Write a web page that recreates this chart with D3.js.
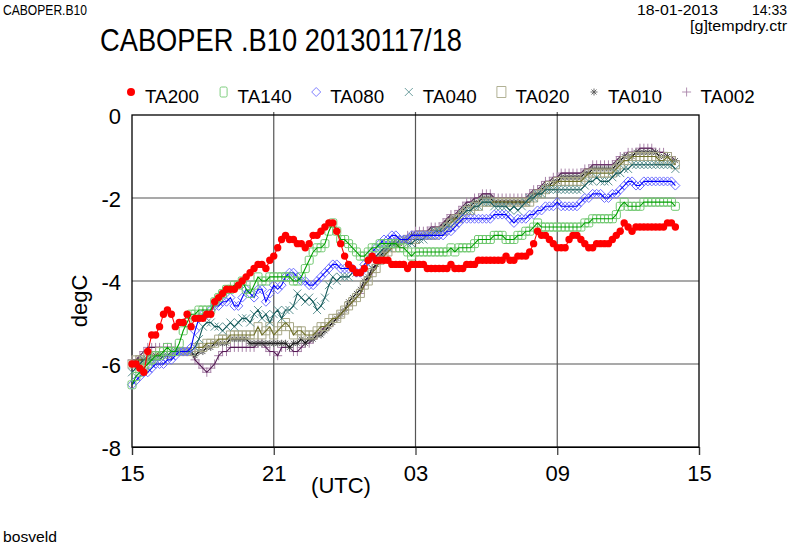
<!DOCTYPE html>
<html><head><meta charset="utf-8">
<script src="https://cdn.jsdelivr.net/npm/d3@7"></script>
<style>body{margin:0;background:#fff}svg{display:block}text{font-family:"Liberation Sans",Arial,sans-serif;fill:#000}</style>
</head><body><svg id="c" width="790" height="545"></svg>
<script>
// ---- data (10-minute samples starting 15 UTC, 17 Jan 2013) ----
const startHour = 15, stepMinutes = 10;
const seriesNames = ["TA200","TA140","TA080","TA040","TA020","TA010","TA002"];
const xTickHours = [0, 6, 12, 18, 24];
const xTickLabels = ["15","21","03","09","15"];
const yTicks = [-8, -6, -4, -2, 0];
const yTickLabels = ["-8","-6","-4","-2","0"];

const TA200 = [-6.0,-6.0,-6.1,-6.2,-5.7,-5.3,-5.3,-5.1,-4.8,-4.7,-4.8,-5.1,-5.0,-5.0,-4.8,-5.1,-4.9,-4.9,-4.9,-4.8,
-4.8,-4.5,-4.4,-4.3,-4.2,-4.2,-4.2,-4.1,-4.0,-3.9,-3.8,-3.7,-3.6,-3.6,-3.7,-3.5,-3.4,-3.2,-3.0,-2.9,
-3.0,-3.0,-3.1,-3.1,-3.2,-3.1,-2.9,-2.9,-2.8,-2.7,-2.6,-2.6,-2.8,-3.1,-3.4,-3.6,-3.7,-3.8,-3.8,-3.7,
-3.5,-3.4,-3.5,-3.5,-3.5,-3.5,-3.6,-3.6,-3.6,-3.6,-3.7,-3.6,-3.6,-3.6,-3.6,-3.7,-3.7,-3.7,-3.7,-3.7,
-3.7,-3.6,-3.7,-3.7,-3.7,-3.6,-3.6,-3.6,-3.5,-3.5,-3.5,-3.5,-3.5,-3.5,-3.5,-3.4,-3.5,-3.5,-3.4,-3.4,
-3.4,-3.3,-3.1,-2.8,-2.9,-2.9,-3.0,-3.1,-3.2,-3.2,-3.2,-3.0,-2.9,-2.9,-3.0,-3.1,-3.2,-3.2,-3.1,-3.1,
-3.1,-3.1,-3.0,-2.9,-2.8,-2.6,-2.7,-2.8,-2.7,-2.7,-2.7,-2.7,-2.7,-2.7,-2.7,-2.7,-2.6,-2.6,-2.7];
const TA140 = [-6.5,-6.3,-6.2,-6.1,-6.0,-5.9,-5.8,-5.8,-5.7,-5.6,-5.7,-5.7,-5.5,-5.2,-5.0,-4.8,-4.8,-4.7,-4.7,-4.7,
-4.7,-4.5,-4.4,-4.3,-4.2,-4.2,-4.1,-4.1,-4.0,-4.2,-4.3,-4.1,-3.9,-4.0,-4.0,-3.9,-3.9,-3.9,-3.9,-3.9,
-3.9,-4.0,-4.0,-3.9,-3.7,-3.5,-3.3,-3.2,-3.2,-3.1,-2.8,-2.6,-2.8,-3.0,-3.0,-3.1,-3.2,-3.3,-3.4,-3.4,
-3.3,-3.2,-3.2,-3.1,-3.1,-3.1,-3.1,-3.1,-3.2,-3.2,-3.3,-3.4,-3.3,-3.3,-3.3,-3.3,-3.3,-3.3,-3.3,-3.3,
-3.3,-3.2,-3.3,-3.2,-3.2,-3.2,-3.2,-3.1,-3.0,-3.0,-3.0,-3.0,-2.9,-2.9,-2.9,-3.0,-3.0,-3.0,-2.9,-2.9,
-2.8,-2.8,-2.7,-2.6,-2.7,-2.7,-2.7,-2.7,-2.7,-2.7,-2.7,-2.7,-2.7,-2.7,-2.7,-2.6,-2.6,-2.5,-2.5,-2.5,
-2.5,-2.5,-2.5,-2.4,-2.2,-2.1,-2.2,-2.2,-2.2,-2.2,-2.1,-2.1,-2.1,-2.1,-2.1,-2.1,-2.1,-2.1,-2.2];
const TA080 = [-6.5,-6.4,-6.3,-6.2,-6.2,-6.1,-6.0,-6.0,-6.0,-5.9,-5.9,-5.8,-5.7,-5.7,-5.7,-5.6,-5.2,-4.9,-4.8,-4.8,
-4.7,-4.6,-4.6,-4.5,-4.5,-4.4,-4.6,-4.6,-4.4,-4.2,-4.3,-4.4,-4.2,-4.2,-4.5,-4.3,-4.1,-4.2,-4.1,-3.9,
-3.8,-3.8,-3.9,-4.0,-4.0,-4.1,-4.1,-4.0,-3.9,-3.8,-3.7,-3.6,-3.6,-3.7,-3.7,-3.7,-3.7,-3.8,-3.8,-3.6,
-3.5,-3.3,-3.2,-3.1,-3.0,-3.0,-2.9,-2.9,-3.0,-3.0,-3.0,-2.9,-2.9,-2.9,-2.9,-2.9,-2.9,-2.9,-2.9,-2.9,
-2.8,-2.8,-2.7,-2.6,-2.5,-2.5,-2.5,-2.5,-2.5,-2.5,-2.5,-2.5,-2.4,-2.4,-2.4,-2.4,-2.5,-2.6,-2.5,-2.5,
-2.5,-2.4,-2.4,-2.3,-2.3,-2.2,-2.2,-2.2,-2.1,-2.2,-2.2,-2.2,-2.2,-2.2,-2.1,-2.0,-2.0,-1.9,-1.9,-1.9,
-2.0,-2.0,-1.9,-1.9,-1.8,-1.7,-1.6,-1.6,-1.7,-1.7,-1.6,-1.6,-1.6,-1.6,-1.6,-1.6,-1.6,-1.6,-1.7];
const TA040 = [-6.2,-6.1,-6.0,-5.9,-5.9,-5.9,-5.9,-5.9,-5.8,-5.8,-5.7,-5.7,-5.7,-5.7,-5.7,-5.7,-5.6,-5.4,-5.1,-5.0,
-5.0,-5.1,-5.1,-5.2,-5.1,-5.0,-5.1,-5.0,-4.9,-4.9,-5.0,-4.8,-4.7,-4.9,-4.8,-5.0,-4.8,-4.7,-4.9,-4.7,
-4.7,-4.6,-4.3,-4.4,-4.5,-4.4,-4.5,-4.7,-4.6,-4.4,-4.1,-3.9,-4.0,-3.9,-3.9,-3.9,-3.8,-3.8,-3.8,-3.7,
-3.6,-3.5,-3.4,-3.3,-3.2,-3.2,-3.1,-3.1,-3.0,-3.0,-3.1,-3.1,-3.0,-3.0,-3.0,-2.9,-2.9,-2.8,-2.8,-2.8,
-2.7,-2.7,-2.6,-2.5,-2.4,-2.3,-2.3,-2.2,-2.2,-2.1,-2.1,-2.1,-2.2,-2.2,-2.2,-2.2,-2.3,-2.2,-2.3,-2.2,
-2.1,-2.0,-2.0,-1.9,-1.9,-1.8,-1.8,-1.8,-1.8,-1.8,-1.8,-1.8,-1.8,-1.8,-1.8,-1.7,-1.6,-1.6,-1.5,-1.6,
-1.6,-1.6,-1.5,-1.4,-1.4,-1.3,-1.3,-1.2,-1.2,-1.2,-1.2,-1.2,-1.2,-1.2,-1.2,-1.2,-1.2,-1.2,-1.3];
const TA020 = [-6.0,-5.9,-5.9,-5.9,-5.8,-5.8,-5.8,-5.7,-5.7,-5.7,-5.7,-5.7,-5.7,-5.7,-5.7,-5.7,-5.6,-5.6,-5.6,-5.5,
-5.5,-5.5,-5.4,-5.4,-5.4,-5.3,-5.3,-5.3,-5.3,-5.3,-5.3,-5.3,-5.1,-5.3,-5.2,-5.1,-5.3,-5.2,-5.1,-5.0,
-5.1,-5.3,-5.2,-5.2,-5.3,-5.3,-5.3,-5.2,-5.1,-5.1,-5.0,-4.9,-4.9,-4.8,-4.7,-4.6,-4.5,-4.4,-4.3,-4.1,
-4.0,-3.8,-3.7,-3.5,-3.4,-3.3,-3.2,-3.2,-3.1,-3.1,-3.0,-3.0,-3.0,-2.9,-2.9,-2.9,-2.9,-2.9,-2.8,-2.8,
-2.7,-2.6,-2.5,-2.5,-2.4,-2.3,-2.3,-2.2,-2.2,-2.1,-2.1,-2.1,-2.1,-2.1,-2.1,-2.1,-2.1,-2.1,-2.1,-2.1,
-2.1,-2.1,-2.0,-1.9,-1.9,-1.8,-1.7,-1.7,-1.6,-1.6,-1.6,-1.6,-1.6,-1.6,-1.6,-1.5,-1.4,-1.4,-1.4,-1.4,
-1.4,-1.4,-1.4,-1.3,-1.2,-1.1,-1.1,-1.0,-1.0,-1.0,-1.0,-1.0,-1.0,-1.0,-1.1,-1.1,-1.0,-1.1,-1.2];
const TA010 = [-6.0,-6.0,-5.9,-5.9,-5.9,-5.8,-5.8,-5.8,-5.8,-5.8,-5.8,-5.7,-5.7,-5.7,-5.7,-5.7,-5.8,-5.7,-5.7,-5.6,
-5.6,-5.5,-5.5,-5.5,-5.5,-5.4,-5.4,-5.4,-5.4,-5.4,-5.5,-5.5,-5.5,-5.5,-5.5,-5.5,-5.5,-5.5,-5.5,-5.5,
-5.6,-5.5,-5.5,-5.4,-5.5,-5.4,-5.4,-5.3,-5.3,-5.2,-5.1,-5.0,-4.9,-4.8,-4.7,-4.5,-4.4,-4.3,-4.2,-4.0,
-3.9,-3.7,-3.6,-3.4,-3.3,-3.2,-3.1,-3.1,-3.1,-3.0,-3.0,-2.9,-2.9,-2.9,-2.9,-2.9,-2.8,-2.8,-2.8,-2.7,
-2.6,-2.5,-2.5,-2.4,-2.3,-2.2,-2.2,-2.1,-2.1,-2.0,-2.0,-2.0,-2.1,-2.1,-2.1,-2.1,-2.1,-2.1,-2.1,-2.1,
-2.1,-2.0,-1.9,-1.9,-1.8,-1.7,-1.7,-1.6,-1.6,-1.5,-1.5,-1.5,-1.5,-1.5,-1.5,-1.4,-1.4,-1.3,-1.3,-1.3,
-1.3,-1.3,-1.3,-1.2,-1.1,-1.0,-1.0,-1.0,-0.9,-0.9,-0.9,-0.9,-0.9,-0.9,-1.0,-1.0,-1.0,-1.1,-1.1];
const TA002 = [-5.9,-5.9,-5.8,-5.7,-5.6,-5.6,-5.6,-5.6,-5.6,-5.6,-5.6,-5.6,-5.7,-5.7,-5.7,-5.7,-5.9,-6.0,-6.1,-6.2,
-6.1,-6.0,-5.8,-5.7,-5.7,-5.6,-5.6,-5.6,-5.6,-5.6,-5.6,-5.6,-5.5,-5.5,-5.6,-5.7,-5.7,-5.8,-5.6,-5.6,
-5.6,-5.7,-5.7,-5.6,-5.5,-5.5,-5.4,-5.3,-5.2,-5.1,-5.1,-5.0,-4.9,-4.8,-4.7,-4.6,-4.5,-4.4,-4.3,-4.1,
-3.9,-3.8,-3.6,-3.5,-3.3,-3.2,-3.1,-3.0,-3.0,-3.0,-2.9,-2.9,-2.8,-2.8,-2.8,-2.8,-2.7,-2.7,-2.7,-2.6,
-2.5,-2.4,-2.4,-2.3,-2.2,-2.1,-2.1,-2.0,-2.0,-1.9,-1.9,-1.9,-2.0,-2.0,-2.0,-2.0,-2.0,-2.0,-2.0,-2.0,
-2.0,-1.9,-1.8,-1.8,-1.7,-1.6,-1.6,-1.5,-1.5,-1.4,-1.4,-1.4,-1.4,-1.4,-1.4,-1.3,-1.3,-1.2,-1.2,-1.2,
-1.2,-1.2,-1.2,-1.1,-1.0,-1.0,-0.9,-0.9,-0.9,-0.8,-0.8,-0.8,-0.8,-0.9,-0.9,-0.9,-1.0,-1.0,-1.1];

// ---- styles ----
const styles = {
  TA200:{line:"#ff0000", mark:"#ff0000", shape:"dot"},
  TA140:{line:"#00a000", mark:"#70c870", shape:"round"},
  TA080:{line:"#0000ff", mark:"#7070ff", shape:"diamond"},
  TA040:{line:"#155a5a", mark:"#5f9494", shape:"x"},
  TA020:{line:"#707028", mark:"#a8a888", shape:"square"},
  TA010:{line:"#111111", mark:"#5a5a5a", shape:"star"},
  TA002:{line:"#551a55", mark:"#a984a9", shape:"plus"}
};
const shapes = {
  round:"M-2.5,-4H2.5Q4,-4 4,-2.5V2.5Q4,4 2.5,4H-2.5Q-4,4 -4,2.5V-2.5Q-4,-4 -2.5,-4Z",
  diamond:"M0,-4.5L4.5,0L0,4.5L-4.5,0Z",
  x:"M-4,-4L4,4M-4,4L4,-4",
  square:"M-4,-4H4V4H-4Z",
  star:"M-3.5,0H3.5M0,-3.5V3.5M-2.5,-2.5L2.5,2.5M-2.5,2.5L2.5,-2.5",
  plus:"M-4.5,0H4.5M0,-4.5V4.5"
};
const legendShapes = Object.assign({}, shapes, {
  round:"M-2,-5H2Q3.5,-5 3.5,-3.5V3.5Q3.5,5 2,5H-2Q-3.5,5 -3.5,3.5V-3.5Q-3.5,-5 -2,-5Z",
  square:"M-4.5,-5.5H4.5V5.5H-4.5Z"
});
const dataMap = {TA200, TA140, TA080, TA040, TA020, TA010, TA002};

const svg = d3.select("#c");
const L = 132, R = 699, T = 115, B = 447;
const x = d3.scaleLinear().domain([0, 24]).range([L, R]);
const y = d3.scaleLinear().domain([-8, 0]).range([B, T]);

function txt(s, xx, yy, size, opts = {}) {
  const t = svg.append("text").attr("x", xx).attr("y", yy).attr("font-size", size).text(s);
  if (opts.anchor) t.attr("text-anchor", opts.anchor);
  if (opts.len) t.attr("textLength", opts.len).attr("lengthAdjust", "spacingAndGlyphs");
  return t;
}
txt("CABOPER.B10", 3, 15, 15.5, {len: 84});
txt("18-01-2013", 637, 15, 15.5, {len: 81});
txt("14:33", 752, 15, 15.5, {len: 35});
txt("[g]tempdry.ctr", 690, 31, 15.5, {len: 97});
txt("CABOPER .B10 20130117/18", 100, 51, 31, {len: 362});
txt("bosveld", 3, 542, 15.5, {len: 54});

// grid
const g = svg.append("g");
g.selectAll(".gx").data(xTickHours.slice(1, -1)).enter().append("line")
  .attr("x1", d => x(d)).attr("x2", d => x(d)).attr("y1", T - 3).attr("y2", B)
  .attr("stroke", "#555").attr("stroke-width", 1.2);
g.selectAll(".gy").data(yTicks.slice(1, -1)).enter().append("line")
  .attr("x1", L).attr("x2", R).attr("y1", d => y(d)).attr("y2", d => y(d))
  .attr("stroke", "#555").attr("stroke-width", 1.2);

// axes
const xAxis = d3.axisBottom(x).tickValues(xTickHours).tickFormat((d, i) => xTickLabels[i]).tickSize(8).tickPadding(10);
const gx = svg.append("g").attr("transform", `translate(0,${B})`).call(xAxis);
gx.select(".domain").attr("stroke", "#000").attr("stroke-width", 1.2);
gx.selectAll(".tick line").attr("stroke", "#333").attr("stroke-width", 1.2);
gx.selectAll("text").attr("font-size", 22).attr("font-family", "Liberation Sans, Arial").attr("fill", "#000");

const yAxis = d3.axisLeft(y).tickValues(yTicks).tickFormat((d, i) => yTickLabels[i]).tickSize(0).tickPadding(11);
const gy = svg.append("g").attr("transform", `translate(${L},0)`).call(yAxis);
gy.select(".domain").remove();
gy.selectAll("text").attr("font-size", 22).attr("font-family", "Liberation Sans, Arial").attr("fill", "#000").attr("dy", "0.4em");
svg.append("rect").attr("x", L).attr("y", T).attr("width", R - L).attr("height", B - T)
  .attr("fill", "none").attr("stroke", "#000").attr("stroke-width", 1.3);

txt("(UTC)", 341, 493, 22, {anchor: "middle"});
svg.append("text").attr("transform", "translate(87,301) rotate(-90)").attr("text-anchor", "middle")
  .attr("font-size", 22).text("degC");

// series (drawn from last to first so TA200 is on top)
const line = d3.line().x((d, i) => x(i * stepMinutes / 60)).y(d => y(d));
const order = seriesNames.slice().reverse();
order.forEach(name => {
  const st = styles[name], vals = dataMap[name];
  const sg = svg.append("g");
  if (st.shape === "dot") {
    sg.append("path").datum(vals).attr("d", line).attr("fill", "none").attr("stroke", st.line).attr("stroke-width", 1.1);
    sg.selectAll("circle").data(vals).enter().append("circle")
      .attr("cx", (d, i) => x(i * stepMinutes / 60)).attr("cy", d => y(d)).attr("r", 3.7).attr("fill", st.mark);
  } else {
    sg.selectAll("path.m").data(vals).enter().append("path").attr("class", "m")
      .attr("d", shapes[st.shape])
      .attr("transform", (d, i) => `translate(${x(i * stepMinutes / 60)},${y(d)})`)
      .attr("fill", "none").attr("stroke", st.mark).attr("stroke-width", 1);
    sg.append("path").datum(vals).attr("d", line).attr("fill", "none").attr("stroke", st.line).attr("stroke-width", 1.1);
  }
});

// legend
const lg = svg.append("g");
seriesNames.forEach((name, k) => {
  const mx = 131 + k * 92.6, my = 92;
  const st = styles[name];
  if (st.shape === "dot") lg.append("circle").attr("cx", mx).attr("cy", my).attr("r", 4).attr("fill", st.mark);
  else lg.append("path").attr("d", legendShapes[st.shape]).attr("transform", `translate(${mx},${my})`)
    .attr("fill", "none").attr("stroke", st.mark).attr("stroke-width", 0.9);
  lg.append("text").attr("x", mx + 14).attr("y", 103).attr("font-size", 19)
    .attr("textLength", 54).attr("lengthAdjust", "spacingAndGlyphs").text(name);
});
</script></body></html>
